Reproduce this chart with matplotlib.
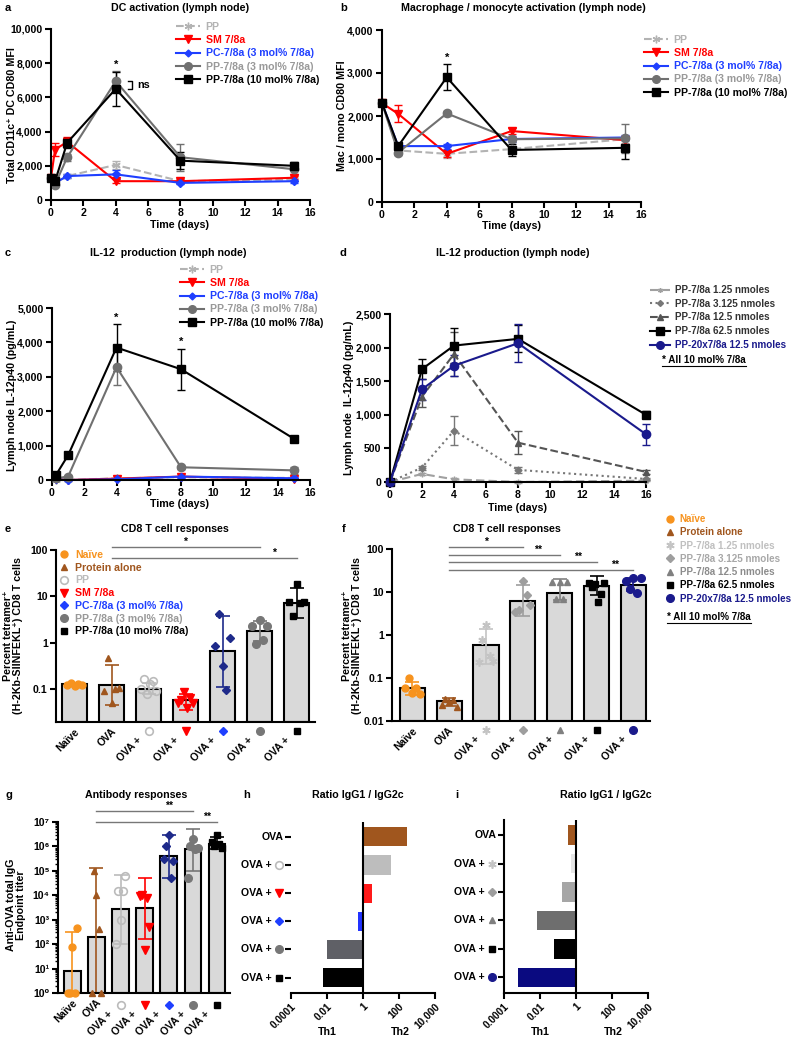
import numpy as np
import matplotlib
matplotlib.use('Agg')
import matplotlib.pyplot as plt
from matplotlib.lines import Line2D
from matplotlib.ticker import FuncFormatter, NullLocator, FixedLocator, LogLocator
from matplotlib.transforms import blended_transform_factory, offset_copy

# ---------------- data ----------------
# a: DC activation (CD80 MFI)
a_time = [0, 0.25, 1, 4, 8, 15]
a_pp = [1300, 1000, 1400, 2050, 1100, 1200]
a_pp_err = [0, 100, 100, 250, 100, 100]
a_sm = [1300, 2950, 3400, 1100, 1100, 1300]
a_sm_err = [0, 400, 300, 100, 100, 100]
a_pc = [1300, 1000, 1400, 1500, 1000, 1100]
a_pc_err = [0, 100, 100, 250, 80, 80]
a_pp3 = [1300, 900, 2500, 6950, 2500, 1800]
a_pp3_err = [0, 100, 200, 600, 800, 300]
a_pp10 = [1300, 1100, 3350, 6500, 2300, 2000]
a_pp10_err = [0, 150, 300, 1000, 500, 250]

# b: macrophage / monocyte activation
b_time = [0, 1, 4, 8, 15]
b_pp = [2300, 1200, 1120, 1230, 1460]
b_pp_err = [0, 80, 100, 80, 80]
b_sm = [2300, 2050, 1120, 1650, 1440]
b_sm_err = [0, 200, 80, 80, 80]
b_pc = [2300, 1300, 1300, 1465, 1500]
b_pc_err = [0, 60, 60, 60, 60]
b_pp3 = [2300, 1150, 2060, 1460, 1480]
b_pp3_err = [0, 60, 60, 60, 330]
b_pp10 = [2300, 1300, 2900, 1210, 1260]
b_pp10_err = [0, 80, 300, 150, 250]

# c: IL-12 production
c_time = [0.25, 1, 4, 8, 15]
c_pp = [0, 0, 50, 80, 60]
c_sm = [30, 0, 40, 100, 30]
c_pc = [20, 0, 20, 100, 50]
c_pp3 = [50, 100, 3280, 370, 280]
c_pp3_err = [20, 30, 520, 40, 100]
c_pp10 = [150, 720, 3850, 3220, 1200]
c_pp10_err = [30, 60, 690, 600, 60]

# d: IL-12 production, dose series
d_time = [0, 2, 4, 8, 16]
d_p125 = [0, 120, 40, 0, 20]
d_p125_err = [0, 20, 20, 10, 10]
d_p3125 = [0, 215, 765, 180, 45]
d_p3125_err = [0, 30, 210, 50, 20]
d_p125b = [0, 1270, 1905, 585, 150]
d_p125b_err = [0, 150, 330, 170, 30]
d_p625 = [0, 1680, 2030, 2130, 1000]
d_p625_err = [0, 150, 260, 200, 50]
d_p20x = [0, 1380, 1730, 2065, 710]
d_p20x_err = [0, 160, 160, 280, 160]

# e: CD8 T cell responses (% tetramer+)
e_mean = [0.13, 0.125, 0.105, 0.058, 0.67, 1.8, 7.4]
e_low = [0.12, 0.046, 0.08, 0.036, 0.115, 1.1, 3.5]
e_high = [0.14, 0.34, 0.135, 0.08, 3.9, 3.0, 15]
e_points = [[0.125, 0.14, 0.12, 0.13, 0.125],
            [0.095, 0.47, 0.05, 0.1, 0.11],
            [0.1, 0.165, 0.08, 0.13, 0.155, 0.095],
            [0.05, 0.06, 0.09, 0.04, 0.065, 0.05],
            [0.88, 4.2, 0.32, 0.098, 1.26],
            [2.3, 0.95, 3.1, 1.15, 2.3],
            [7.5, 3.9, 18.6, 7.4, 7.6]]

# f: CD8 T cell responses, dose series
f_mean = [0.057, 0.029, 0.57, 6.3, 9.7, 13.6, 14.8]
f_low = [0.04, 0.022, 0.21, 2.7, 6.5, 8.4, 10.5]
f_high = [0.079, 0.034, 1.37, 14.3, 20, 24, 21]
f_points = [[0.06, 0.1, 0.046, 0.06, 0.042],
            [0.024, 0.033, 0.027, 0.03, 0.021],
            [0.24, 0.75, 1.7, 0.32, 0.25],
            [3.4, 3.8, 18, 8.4, 4.97],
            [17, 7, 17, 7, 17],
            [16, 13, 15.5, 5.7, 9.0, 16],
            [18, 12, 21, 9.5, 21]]

# g: antibody responses (endpoint titer)
g_mean = [8, 200, 2700, 3000, 4e5, 7.5e5, 1.2e6]
g_low = [1, 1, 100, 170, 5e4, 1e5, 8e5]
g_high = [300, 1.3e5, 7e4, 5e4, 3e6, 5e6, 2.5e6]
g_points = [[1, 1, 80, 1, 450],
            [1, 1e5, 1e4, 400, 1],
            [100, 1.5e4, 1000, 1.5e4, 6e4],
            [9000, 1e4, 60, 8000, 500],
            [3e5, 1e6, 3e6, 5e4, 2.5e5],
            [5e4, 1e6, 2e6, 8e5, 9e5],
            [1.5e6, 1e6, 3e6, 1.2e6, 9e5]]

# h, i: IgG1 / IgG2c ratio
h_ratio = [275, 36, 3, 0.53, 0.01, 0.006]
i_ratio = [0.36, 0.55, 0.17, 0.0068, 0.06, 0.0006]

cat_e = ['Naïve', 'OVA', 'OVA +', 'OVA +', 'OVA +', 'OVA +', 'OVA +']
row_h = ['OVA', 'OVA +', 'OVA +', 'OVA +', 'OVA +', 'OVA +']

# ---------------- style ----------------
plt.rcParams['font.family'] = ['Liberation Sans', 'DejaVu Sans']
plt.rcParams['font.weight'] = 'bold'
plt.rcParams['axes.linewidth'] = 1.5
for ax_ in ('xtick', 'ytick'):
    plt.rcParams[f'{ax_}.major.width'] = 1.5
    plt.rcParams[f'{ax_}.major.size'] = 4
    plt.rcParams[f'{ax_}.labelsize'] = 7.6
    plt.rcParams[f'{ax_}.major.pad'] = 2

ORANGE, BROWN = '#F7931E', '#A0561E'
LGRAY, GRAY = '#BBBBBB', '#777777'
RED, BLUE, NAVY = '#FF0000', '#1F3FFF', '#1A1A8C'

LINE = {
    'pp': dict(color='#B3B3B3', ls='--', marker=(6, 2, 0), ms=6),
    'sm': dict(color=RED, ls='-', marker='v', ms=6),
    'pc': dict(color=BLUE, ls='-', marker='D', ms=4),
    'pp3': dict(color='#707070', ls='-', marker='o', ms=6),
    'pp10': dict(color='black', ls='-', marker='s', ms=6),
    'p125': dict(color='#A0A0A0', ls=(0, (4, 2)), marker=(6, 2, 0), ms=4),
    'p3125': dict(color='#777777', ls=':', marker='D', ms=3.5),
    'p125b': dict(color='#555555', ls='--', marker='^', ms=4.5),
    'p625': dict(color='black', ls='-', marker='s', ms=6),
    'p20x': dict(color=NAVY, ls='-', marker='o', ms=6),
}

MK = {
    'naive': dict(marker='o', color=ORANGE, ms=5),
    'ova': dict(marker='^', color=BROWN, ms=5),
    'pp': dict(marker='o', color=LGRAY, mfc='none', ms=5.5, mew=1.2),
    'sm': dict(marker='v', color=RED, ms=5.5),
    'pc': dict(marker='D', color=BLUE, ms=4),
    'pcn': dict(marker='D', color='#1E2A8A', ms=4),
    'pp3': dict(marker='o', color=GRAY, ms=5.5),
    'pp10': dict(marker='s', color='black', ms=5),
    'p125': dict(marker=(6, 2, 0), color='#C4C4C4', ms=6, mew=1.2),
    'p3125': dict(marker='D', color='#9E9E9E', ms=4),
    'p125b': dict(marker='^', color='#808080', ms=5),
    'p625': dict(marker='s', color='black', ms=5),
    'p20x': dict(marker='o', color=NAVY, ms=5.5),
}

W, H = 800, 1040
fig = plt.figure(figsize=(W / 100, H / 100), dpi=100)


def add_ax(x0, y0, x1, y1):
    return fig.add_axes([x0 / W, 1 - y1 / H, (x1 - x0) / W, (y1 - y0) / H])


def ftext(x, y, s, **kw):
    kw.setdefault('fontsize', 7.3)
    return fig.text(x / W, 1 - y / H, s, **kw)


def style(ax):
    for s in ('top', 'right'):
        ax.spines[s].set_visible(False)


def legend_at(ax, handles, labels, colors, x, y, **kw):
    opts = dict(handlelength=2.3, handletextpad=0.5, labelspacing=0.3, fontsize=7.6)
    opts.update(kw)
    leg = ax.legend(handles, labels, loc='upper left', bbox_to_anchor=(x / W, 1 - y / H),
                    bbox_transform=fig.transFigure, frameon=False, borderaxespad=0,
                    borderpad=0, **opts)
    for t, c in zip(leg.get_texts(), colors):
        t.set_color(c)
    return leg


def time_panel(rect, t, ys, errs, keys, ymax, ystep):
    ax = add_ax(*rect)
    style(ax)
    for y, e, k in zip(ys, errs, keys):
        st = LINE[k]
        ax.errorbar(t, y, yerr=e, color=st['color'], ls=st['ls'], lw=1.5,
                    marker=st['marker'], ms=st['ms'], mew=1, capsize=3,
                    elinewidth=1, capthick=1, clip_on=False)
    ax.set_xlim(0, 16)
    ax.set_ylim(0, ymax)
    ax.set_xticks(range(0, 17, 2))
    ax.set_yticks(np.arange(0, ymax + 1, ystep))
    ax.yaxis.set_major_formatter(FuncFormatter(lambda v, p: f'{int(v):,}'))
    return ax


def line_handles(keys):
    return [Line2D([], [], color=LINE[k]['color'], ls=LINE[k]['ls'], lw=1.5,
                   marker=LINE[k]['marker'], ms=LINE[k]['ms'] - 0.5) for k in keys]


def bar_panel(rect, mean, low, high, pts, keys, ylim, xlim):
    ax = add_ax(*rect)
    style(ax)
    ax.set_yscale('log')
    ax.set_ylim(*ylim)
    x = np.arange(len(mean))
    ax.bar(x, np.array(mean) - ylim[0], bottom=ylim[0], width=0.68, color='#D9D9D9',
           edgecolor='black', lw=1.5, zorder=1)
    for i, k in enumerate(keys):
        st = MK[k]
        ax.errorbar(x[i], mean[i], yerr=[[mean[i] - low[i]], [high[i] - mean[i]]], fmt='none',
                    ecolor=st['color'], capsize=5, elinewidth=1.2, capthick=1.2, zorder=2)
        off = np.linspace(-0.2, 0.2, len(pts[i]))
        ax.plot(x[i] + off, pts[i], ls='none', zorder=3, clip_on=False, **st)
    ax.set_xlim(*xlim)
    ax.set_xticks([])
    ax.yaxis.set_minor_locator(NullLocator())
    return ax


def cat_labels(ax, labels, marks, mdy=-9, tdx=-8, tdy=-17):
    base = blended_transform_factory(ax.transData, ax.transAxes)
    for i, (lab, mk) in enumerate(zip(labels, marks)):
        if mk is None:
            ax.annotate(lab, (i, 0), xycoords=base, xytext=(3, -8), textcoords='offset pixels',
                        rotation=45, rotation_mode='anchor', ha='right', va='center',
                        fontsize=7.5, annotation_clip=False)
        else:
            ax.annotate(lab, (i, 0), xycoords=base, xytext=(tdx, tdy), textcoords='offset pixels',
                        rotation=45, rotation_mode='anchor', ha='right', va='center',
                        fontsize=7.5, annotation_clip=False)
            tr = offset_copy(base, fig=fig, x=0, y=mdy, units='dots')
            ax.plot([i], [0], transform=tr, ls='none', clip_on=False, **MK[mk])


def sig_lines(ax, rect, sigs, ys, stars_x):
    base = blended_transform_factory(ax.transData, ax.transAxes)
    hgt = rect[3] - rect[1]
    for (i0, i1, s), ypx, sx in zip(sigs, ys, stars_x):
        yf = (rect[3] - ypx) / hgt
        ax.plot([i0, i1], [yf, yf], transform=base, color='#777777', lw=1, clip_on=False)
        ax.text(sx, yf, s, transform=base, ha='center', va='bottom', fontsize=7.5)


def row_labels(ax, labels, marks):
    base = blended_transform_factory(ax.transAxes, ax.transData)
    for i, (lab, mk) in enumerate(zip(labels, marks)):
        if mk is None:
            ax.annotate(lab, (0, i), xycoords=base, xytext=(-7, 0), textcoords='offset pixels',
                        ha='right', va='center', fontsize=7.6, annotation_clip=False)
        else:
            ax.annotate(lab, (0, i), xycoords=base, xytext=(-19, 0), textcoords='offset pixels',
                        ha='right', va='center', fontsize=7.6, annotation_clip=False)
            tr = offset_copy(base, fig=fig, x=-12, y=0, units='dots')
            ax.plot([0], [i], transform=tr, ls='none', clip_on=False, **MK[mk])


def ratio_panel(rect, vals, colors, marks, show_left):
    ax = add_ax(*rect)
    style(ax)
    ax.set_xscale('log')
    v = np.array(vals)
    y = np.arange(len(v))
    ax.barh(y, np.abs(v - 1), left=np.minimum(v, 1), height=0.68, color=colors)
    ax.axvline(1, color='black', lw=1.5)
    ax.set_xlim(1e-4, 1e4)
    ax.set_ylim(len(v) - 0.45, -0.53)
    ax.set_xticks([1e-4, 1e-2, 1, 1e2, 1e4])
    ax.set_xticklabels(['0.0001', '0.01', '1', '100', '10,000'], rotation=45, ha='right',
                       rotation_mode='anchor', fontsize=7.3)
    ax.xaxis.set_minor_locator(NullLocator())
    ax.set_yticks(y)
    ax.set_yticklabels([])
    ax.spines['left'].set_visible(show_left)
    row_labels(ax, row_h, marks)
    return ax


# ---------------- panel a ----------------
keys5 = ['pp', 'sm', 'pc', 'pp3', 'pp10']
lab5 = ['PP', 'SM 7/8a', 'PC-7/8a (3 mol% 7/8a)', 'PP-7/8a (3 mol% 7/8a)', 'PP-7/8a (10 mol% 7/8a)']
col5 = ['#B3B3B3', RED, BLUE, '#999999', 'black']

ax = time_panel((51, 29, 310, 200), a_time, [a_pp, a_sm, a_pc, a_pp3, a_pp10],
                [a_pp_err, a_sm_err, a_pc_err, a_pp3_err, a_pp10_err], keys5, 10000, 2000)
ax.text(4, a_pp3[3] + a_pp3_err[3] + 200, '*', ha='center', fontsize=8)
ax.plot([4.75, 5.0, 5.0, 4.75], [a_pp3[3], a_pp3[3], a_pp10[3], a_pp10[3]], color='black', lw=1)
ax.text(5.3, (a_pp3[3] + a_pp10[3]) / 2, 'ns', va='center', fontsize=7.8)
legend_at(ax, line_handles(keys5), lab5, col5, 176, 22)

# ---------------- panel b ----------------
ax = time_panel((382, 30, 641, 202), b_time, [b_pp, b_sm, b_pc, b_pp3, b_pp10],
                [b_pp_err, b_sm_err, b_pc_err, b_pp3_err, b_pp10_err], keys5, 4000, 1000)
ax.text(4, b_pp10[2] + b_pp10_err[2] + 80, '*', ha='center', fontsize=8)
legend_at(ax, line_handles(keys5), lab5, col5, 644, 35)

# ---------------- panel c ----------------
zero = [0] * 5
ax = time_panel((52, 308, 310, 480), c_time, [c_pp, c_sm, c_pc, c_pp3, c_pp10],
                [zero, zero, zero, c_pp3_err, c_pp10_err], keys5, 5000, 1000)
ax.text(4, c_pp10[2] + c_pp10_err[2] + 100, '*', ha='center', fontsize=8)
ax.text(8, c_pp10[3] + c_pp10_err[3] + 100, '*', ha='center', fontsize=8)
legend_at(ax, line_handles(keys5), lab5, col5, 180, 265)

# ---------------- panel d ----------------
keysd = ['p125', 'p3125', 'p125b', 'p625', 'p20x']
ax = time_panel((390, 314, 646, 482), d_time, [d_p125, d_p3125, d_p125b, d_p625, d_p20x],
                [d_p125_err, d_p3125_err, d_p125b_err, d_p625_err, d_p20x_err], keysd, 2500, 500)
legend_at(ax, line_handles(keysd),
          ['PP-7/8a 1.25 nmoles', 'PP-7/8a 3.125 nmoles', 'PP-7/8a 12.5 nmoles',
           'PP-7/8a 62.5 nmoles', 'PP-20x7/8a 12.5 nmoles'],
          ['#333333'] * 4 + [NAVY], 650, 285, handlelength=2.0, fontsize=7.1,
          labelspacing=0.38)

# ---------------- panel e ----------------
rect_e = (56, 550, 315, 722)
ax = bar_panel(rect_e, e_mean, e_low, e_high, e_points,
               ['naive', 'ova', 'pp', 'sm', 'pcn', 'pp3', 'pp10'], (0.02, 100), (-0.5, 6.5))
ax.yaxis.set_major_locator(FixedLocator([0.1, 1, 10, 100]))
ax.yaxis.set_major_formatter(FuncFormatter(lambda v, p: f'{v:g}'))
cat_labels(ax, cat_e, [None, None, 'pp', 'sm', 'pc', 'pp3', 'pp10'])
sig_lines(ax, rect_e, [(1, 5, '*'), (1, 6, '*')], [547, 558], [3.0, 5.4])
ekeys = ['naive', 'ova', 'pp', 'sm', 'pc', 'pp3', 'pp10']
legend_at(ax, [Line2D([], [], ls='none', **MK[k]) for k in ekeys],
          ['Naïve', 'Protein alone', 'PP', 'SM 7/8a', 'PC-7/8a (3 mol% 7/8a)',
           'PP-7/8a (3 mol% 7/8a)', 'PP-7/8a (10 mol% 7/8a)'],
          [ORANGE, BROWN, LGRAY, RED, BLUE, '#999999', 'black'], 60, 550,
          handlelength=0.8, handletextpad=0.6, labelspacing=0.26)

# ---------------- panel f ----------------
rect_f = (392, 549, 650, 721)
fkeys = ['naive', 'ova', 'p125', 'p3125', 'p125b', 'p625', 'p20x']
ax = bar_panel(rect_f, f_mean, f_low, f_high, f_points, fkeys, (0.01, 100), (-0.55, 6.45))
ax.yaxis.set_major_locator(FixedLocator([0.01, 0.1, 1, 10, 100]))
ax.yaxis.set_major_formatter(FuncFormatter(lambda v, p: f'{v:g}'))
cat_labels(ax, cat_e, [None, None, 'p125', 'p3125', 'p125b', 'p625', 'p20x'])
sig_lines(ax, rect_f, [(1, 3, '*'), (1, 4, '**'), (1, 5, '**'), (1, 6, '**')],
          [547, 555, 562, 570], [2.0, 3.4, 4.5, 5.5])
legend_at(ax, [Line2D([], [], ls='none', **MK[k]) for k in fkeys],
          ['Naïve', 'Protein alone', 'PP-7/8a 1.25 nmoles', 'PP-7/8a 3.125 nmoles',
           'PP-7/8a 12.5 nmoles', 'PP-7/8a 62.5 nmoles', 'PP-20x7/8a 12.5 nmoles'],
          [ORANGE, BROWN, '#C0C0C0', '#A8A8A8', '#8C8C8C', 'black', NAVY], 666, 514,
          handlelength=0.8, handletextpad=0.6, labelspacing=0.33, fontsize=7.1)

# ---------------- panel g ----------------
rect_g = (58, 822, 230, 993)
ax = bar_panel(rect_g, g_mean, g_low, g_high, g_points,
               ['naive', 'ova', 'pp', 'sm', 'pcn', 'pp3', 'pp10'], (1, 1e7), (-0.6, 6.55))
sup = str.maketrans('0123456789', '⁰¹²³⁴⁵⁶⁷⁸⁹')
ax.yaxis.set_major_locator(FixedLocator([10.0 ** k for k in range(8)]))
ax.yaxis.set_major_formatter(FuncFormatter(lambda v, p: '10' + str(int(round(np.log10(v)))).translate(sup)))
ax.yaxis.set_minor_locator(LogLocator(base=10, subs=np.arange(2, 10)))
ax.tick_params(axis='y', which='minor', length=2, width=1)
cat_labels(ax, cat_e, [None, None, 'pp', 'sm', 'pc', 'pp3', 'pp10'], mdy=-12, tdx=-9, tdy=-20)
sig_lines(ax, rect_g, [(1, 5, '**'), (1, 6, '**')], [811, 822], [4.0, 5.6])

# ---------------- panels h, i ----------------
ratio_panel((291, 822, 435, 993), h_ratio,
            [BROWN, '#BDBDBD', '#FF1A1A', '#2233FF', '#5F6066', 'black'],
            [None, 'pp', 'sm', 'pc', 'pp3', 'pp10'], False)
ratio_panel((504, 820, 648, 993), i_ratio,
            [BROWN, '#E6E6E6', '#A6A6A6', '#6E6E6E', 'black', '#0A0A80'],
            [None, 'p125', 'p3125', 'p125b', 'p625', 'p20x'], True)

# ---------------- text ----------------
for s, x, y in [('a', 5, 8), ('b', 340, 8), ('c', 5, 253), ('d', 340, 253),
                ('e', 5, 529), ('f', 342, 529), ('g', 5, 795), ('h', 243, 795), ('i', 455, 795)]:
    ftext(x, y, s, fontsize=8, va='center')

for s, x, y in [('DC activation (lymph node)', 180, 8),
                ('Macrophage / monocyte activation (lymph node)', 523, 8),
                ('IL-12  production (lymph node)', 168, 253),
                ('IL-12 production (lymph node)', 513, 253),
                ('CD8 T cell responses', 175, 529),
                ('CD8 T cell responses', 507, 529),
                ('Antibody responses', 136, 795),
                ('Ratio IgG1 / IgG2c', 358, 795),
                ('Ratio IgG1 / IgG2c', 606, 795)]:
    ftext(x, y, s, ha='center', va='center', fontsize=7.7)

for x, y in [(180, 225), (512, 226), (180, 504), (518, 508)]:
    ftext(x, y, 'Time (days)', ha='center', va='center', fontsize=7.7)

for s, x, y in [('Total CD11c⁺ DC CD80 MFI', 12, 115),
                ('Mac / mono CD80 MFI', 342, 116),
                ('Lymph node IL-12p40 (pg/mL)', 12, 395),
                ('Lymph node  IL-12p40 (pg/mL)', 349, 398),
                ('Percent tetramer⁺\n(H-2Kb-SIINFEKL⁺) CD8 T cells', 13, 636),
                ('Percent tetramer⁺\n(H-2Kb-SIINFEKL⁺) CD8 T cells', 352, 636),
                ('Anti-OVA total IgG\nEndpoint titer', 16, 905)]:
    ftext(x, y, s, rotation=90, ha='center', va='center', fontsize=7.7, linespacing=1.1)

for s, x, y in [('Th1', 327, 1032), ('Th2', 400, 1032), ('Th1', 540, 1032), ('Th2', 613, 1032)]:
    ftext(x, y, s, ha='center', va='center', fontsize=7.7)

notes = [ftext(662, 360, '* All 10 mol% 7/8a', va='center', fontsize=7.1),
         ftext(667, 617, '* All 10 mol% 7/8a', va='center', fontsize=7.1)]
fig.canvas.draw()
renderer = fig.canvas.get_renderer()
for t in notes:
    bb = t.get_window_extent(renderer).transformed(fig.transFigure.inverted())
    fig.add_artist(Line2D([bb.x0, bb.x1], [bb.y0 - 0.001, bb.y0 - 0.001],
                          transform=fig.transFigure, color='black', lw=0.8))

fig.savefig('out.png', dpi=100)
